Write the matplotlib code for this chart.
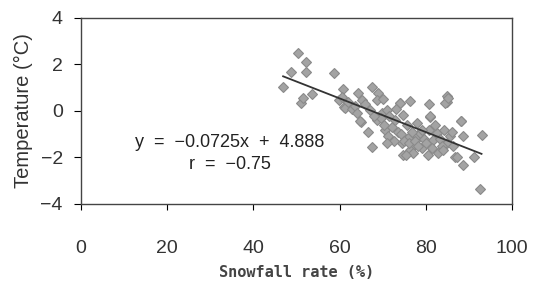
import numpy as np
import matplotlib
matplotlib.use('Agg')
import matplotlib.pyplot as plt

# snowfall rate (%) vs temperature (deg C)
snow_rate = [50.3, 52.3, 48.8, 52.3, 58.6, 46.9, 53.7, 51.1, 51.5, 60.8,
             61.0, 67.4, 65.0, 66.6, 67.4, 73.9, 76.4, 80.7, 80.9, 84.8,
             84.9, 88.2, 88.6, 92.9, 92.5, 91.2, 88.5, 86.8, 82.8, 74.7,
             59.9, 61.3, 62.8, 64.3, 65.1, 64.7, 69.0, 68.6, 67.1, 68.6,
             69.8, 70.9, 70.5, 71.3, 72.1, 74.0, 74.8, 75.6, 74.4, 75.9,
             77.1, 77.9, 79.0, 76.3, 78.7, 81.0, 80.8, 81.7, 82.5, 84.1,
             84.5, 85.2, 84.8, 86.4, 87.2, 88.1,
             69.5, 70.2, 71.5, 72.8, 73.5, 74.2, 75.0, 76.0, 76.8, 77.5,
             78.2, 79.5, 80.0, 81.5, 82.0, 83.2, 83.8, 85.5, 86.0, 63.5,
             62.0, 66.0, 68.0, 72.5, 73.0, 78.0, 79.0, 77.0, 75.5, 64.0,
             60.5, 70.0, 71.0, 80.5, 84.0]
temperature = [2.48, 2.12, 1.69, 1.69, 1.65, 1.02, 0.73, 0.33, 0.56, 0.93,
               0.16, 1.02, -0.46, -0.89, -1.54, 0.33, 0.44, 0.30, -0.25, 0.62,
               0.40, -0.42, -1.08, -1.03, -3.37, -1.99, -2.32, -1.97, -1.80, -1.89,
               0.47, 0.12, 0.07, 0.76, 0.47, -0.42, 0.76, 0.47, 0.04, -0.39,
               -0.10, 0.04, -0.82, -1.10, -0.68, 0.33, -0.17, -0.60, -1.39, -1.17,
               -1.53, -1.10, -1.60, -1.68, -0.96, -0.22, -0.82, -1.25, -0.96, -0.82,
               0.33, 0.55, -1.39, -1.53, -1.97, -0.42,
               -0.30, -0.60, -0.20, -0.40, -0.90, -1.00, -1.30, -1.40, -0.90, -1.30,
               -1.50, -1.20, -1.40, -1.60, -0.60, -1.20, -1.50, -1.10, -0.90, 0.20,
               0.40, 0.30, -0.20, -1.30, 0.10, -0.50, -0.80, -1.80, -1.90, -0.10,
               0.60, 0.50, -1.40, -1.90, -1.70]

slope = -0.0725
intercept = 4.888
r_value = -0.75

xticks = [0, 20, 40, 60, 80, 100]
yticks = [-4, -2, 0, 2, 4]

fig = plt.figure(figsize=(5.46, 2.84), dpi=100)
ax = fig.add_axes([0.148, 0.282, 0.79, 0.655])

ax.plot(snow_rate, temperature, 'D', ms=5, mfc='#a3a3a3', mec='#8a8a8a', mew=0.8)

xfit = np.array([min(snow_rate), max(snow_rate)])
ax.plot(xfit, slope * xfit + intercept, '-', color='#333333', lw=1.3)

ax.text(34.6, -1.38, 'y  =  \u2212%.4fx  +  %.3f' % (abs(slope), intercept),
        fontsize=13, family='Liberation Sans', va='center', ha='center',
        color='#222222')
ax.text(34.6, -2.32, 'r  =  \u2212%.2f' % abs(r_value), fontsize=13,
        family='Liberation Sans', va='center', ha='center', color='#222222')

ax.set_xlim(0, 100)
ax.set_ylim(-4, 4)
ax.set_xticks(xticks)
ax.set_yticks(yticks)
ax.tick_params(axis='x', direction='out', length=4, pad=22, labelsize=14)
ax.tick_params(axis='y', direction='out', length=5, pad=8, labelsize=14)
for lab in ax.get_xticklabels() + ax.get_yticklabels():
    lab.set_family('Liberation Sans')
    lab.set_color('#333333')
for sp in ax.spines.values():
    sp.set_color('#444444')
    sp.set_linewidth(1.0)

ax.set_xlabel('Snowfall rate (%)', fontsize=11, family='DejaVu Sans Mono',
              weight='bold', color='#444444', labelpad=6)
ax.set_ylabel('Temperature (\u00b0C)', fontsize=14.5, family='Liberation Sans',
              color='#333333', labelpad=5)

fig.savefig('out.png', dpi=100)
